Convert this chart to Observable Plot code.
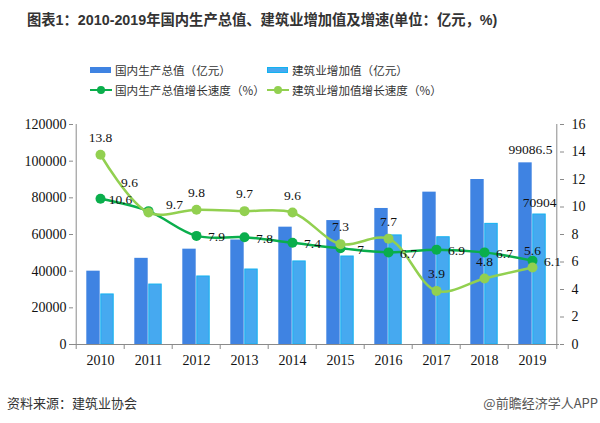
<!DOCTYPE html>
<html><head><meta charset="utf-8">
<script src="https://cdn.jsdelivr.net/npm/d3@7"></script>
<script src="https://cdn.jsdelivr.net/npm/@observablehq/plot@0.6"></script>
<style>
body{margin:0;background:#fff;}
#root{position:relative;width:600px;height:423px;overflow:hidden;background:#fff;font-family:"Noto Sans CJK SC","Noto Sans",sans-serif;}
.abs{position:absolute;white-space:nowrap;}
#title{left:27px;top:10px;font-size:14.3px;font-weight:bold;color:#333;line-height:20px;font-family:"Liberation Sans","Noto Sans CJK SC",sans-serif;}
.lg{font-size:11.6px;color:#333;line-height:14px;}
.sw{position:absolute;}
#chart{position:absolute;left:0;top:110px;}
.foot{font-size:13px;line-height:16px;}
</style></head>
<body><div id="root">
<div id="title" class="abs">图表1：2010-2019年国内生产总值、建筑业增加值及增速(单位：亿元，%)</div>
<div id="legend"></div>
<div id="chart"></div>
<div class="abs foot" style="left:7px;top:395px;color:#333;">资料来源：建筑业协会</div>
<div class="abs foot" style="right:2px;top:395px;color:#555;">@前瞻经济学人APP</div>
</div>
<script>
const years = [2010, 2011, 2012, 2013, 2014, 2015, 2016, 2017, 2018, 2019];
const gdpValue = [40000, 47000, 52000, 57000, 64000, 67600, 74200, 83100, 90000, 99086.5];
const conValue = [27300, 32700, 37100, 40900, 45300, 48000, 59500, 58500, 65800, 70904];
const gdpGrowth = [10.6, 9.7, 7.9, 7.8, 7.4, 7, 6.7, 6.9, 6.7, 6.1];
const conGrowth = [13.8, 9.6, 9.8, 9.7, 9.6, 7.3, 7.7, 3.9, 4.8, 5.6];
const leftTicks = [0, 20000, 40000, 60000, 80000, 100000, 120000];
const rightTicks = [0, 2, 4, 6, 8, 10, 12, 14, 16];
const seriesNames = ["国内生产总值（亿元）", "建筑业增加值（亿元）", "国内生产总值增长速度（%）", "建筑业增加值增长速度（%）"];
const labeledBarYear = 2019;

const C = {gdp: "#3f83e2", con: "#46a9f0", conEdge: "#12b2f0", gg: "#0aae4c", cg: "#92d050", axis: "#8a8a8a"};

// legend
const legend = document.getElementById("legend");
const legendItems = [
  {name: seriesNames[0], type: "bar", color: C.gdp, x: 90, y: 70},
  {name: seriesNames[1], type: "bar", color: C.con, edge: C.conEdge, x: 267, y: 70},
  {name: seriesNames[2], type: "line", color: C.gg, x: 90, y: 90},
  {name: seriesNames[3], type: "line", color: C.cg, x: 267, y: 90}
];
for (const it of legendItems) {
  if (it.type === "bar") {
    const s = document.createElement("div");
    s.className = "sw";
    s.style.cssText = `left:${it.x}px;top:${it.y - 3}px;width:21px;height:6px;background:${it.color};${it.edge ? "box-sizing:border-box;border:1px solid " + it.edge + ";" : ""}`;
    legend.appendChild(s);
  } else {
    const l = document.createElement("div");
    l.className = "sw";
    l.style.cssText = `left:${it.x}px;top:${it.y - 1.25}px;width:22px;height:2.5px;background:${it.color};`;
    legend.appendChild(l);
    const d = document.createElement("div");
    d.className = "sw";
    d.style.cssText = `left:${it.x + 7}px;top:${it.y - 4}px;width:8px;height:8px;border-radius:50%;background:${it.color};`;
    legend.appendChild(d);
  }
  const t = document.createElement("div");
  t.className = "abs lg";
  t.style.left = (it.x + 25) + "px";
  t.style.top = (it.y - 7) + "px";
  t.textContent = it.name;
  legend.appendChild(t);
}

const data = years.map((y, i) => ({year: y, gdp: gdpValue[i], con: conValue[i], gg: gdpGrowth[i], cg: conGrowth[i]}));
const K = 120000 / 16;
const W = 600, ML = 73, MR = 41;
const bw = (W - ML - MR) / years.length;
const barW = 14;
const half = bw / 2;

const conMain = data.filter(d => d.year !== 2011);
const con2011 = data.filter(d => d.year === 2011);
const ggMain = data.filter(d => d.year !== 2011);
const gg2011 = data.filter(d => d.year === 2011);
const lastBar = data.filter(d => d.year === labeledBarYear);

const plot = Plot.plot({
  width: W, height: 270,
  marginTop: 14, marginBottom: 36, marginLeft: ML, marginRight: MR,
  x: {type: "band", domain: years, padding: 0, axis: null},
  y: {domain: [0, 120000], axis: null, label: null},
  style: {fontFamily: "'Liberation Serif', 'Times New Roman', serif", fontSize: "14px", color: "#111", background: "transparent"},
  marks: [
    Plot.barY(data, {x: "year", y: "gdp", fill: C.gdp, insetLeft: half - barW, insetRight: half}),
    Plot.barY(data, {x: "year", y: "con", fill: C.con, stroke: C.conEdge, strokeWidth: 1, insetLeft: half + 0.5, insetRight: half - barW + 0.5}),
    Plot.ruleY([0], {stroke: C.axis}),
    Plot.ruleX([years[0]], {dx: -half, stroke: C.axis}),
    Plot.ruleX([years[years.length - 1]], {dx: half, stroke: C.axis}),
    Plot.ruleX(years, {x: d => d, y1: 0, y2: 0, insetBottom: -5, dx: -half, stroke: C.axis}),
    Plot.ruleX([years[years.length - 1]], {x: d => d, y1: 0, y2: 0, insetBottom: -5, dx: half, stroke: C.axis}),
    Plot.axisY(leftTicks, {anchor: "left", tickSize: 4, tickPadding: 3, stroke: C.axis, fill: "#111", tickFormat: d => String(d), label: null}),
    Plot.axisY(rightTicks.map(v => v * K), {anchor: "right", tickSize: 4, tickPadding: 8, stroke: C.axis, fill: "#111", tickFormat: d => String(Math.round(d / K)), label: null}),
    Plot.axisX(years, {tickSize: 0, tickPadding: 11, fill: "#111", tickFormat: d => String(d), label: null}),
    Plot.line(data, {x: "year", y: d => d.gg * K, stroke: C.gg, strokeWidth: 2.5, curve: "catmull-rom"}),
    Plot.dot(data, {x: "year", y: d => d.gg * K, r: 5, fill: C.gg}),
    Plot.line(data, {x: "year", y: d => d.cg * K, stroke: C.cg, strokeWidth: 2.5, curve: "catmull-rom"}),
    Plot.dot(data, {x: "year", y: d => d.cg * K, r: 5, fill: C.cg}),
    Plot.text(ggMain, {x: "year", y: d => d.gg * K, text: d => String(d.gg), dx: 20, dy: 1, fill: "#111", fontSize: 13.5}),
    Plot.text(gg2011, {x: "year", y: d => d.gg * K, text: d => String(d.gg), dx: 26, dy: -6, fill: "#111", fontSize: 13.5}),
    Plot.text(conMain, {x: "year", y: d => d.cg * K, text: d => String(d.cg), dy: -17, fill: "#111", fontSize: 13.5}),
    Plot.text(con2011, {x: "year", y: d => d.cg * K, text: d => String(d.cg), dx: -19, dy: -30, fill: "#111", fontSize: 13.5}),
    Plot.text(lastBar, {x: "year", y: "gdp", text: d => String(d.gdp), dx: -2, dy: -13, fill: "#111", fontSize: 13.5}),
    Plot.text(lastBar, {x: "year", y: "con", text: d => String(d.con), dx: 7, dy: -12, fill: "#111", fontSize: 13.5})
  ]
});
document.getElementById("chart").appendChild(plot);
</script>
</body></html>
